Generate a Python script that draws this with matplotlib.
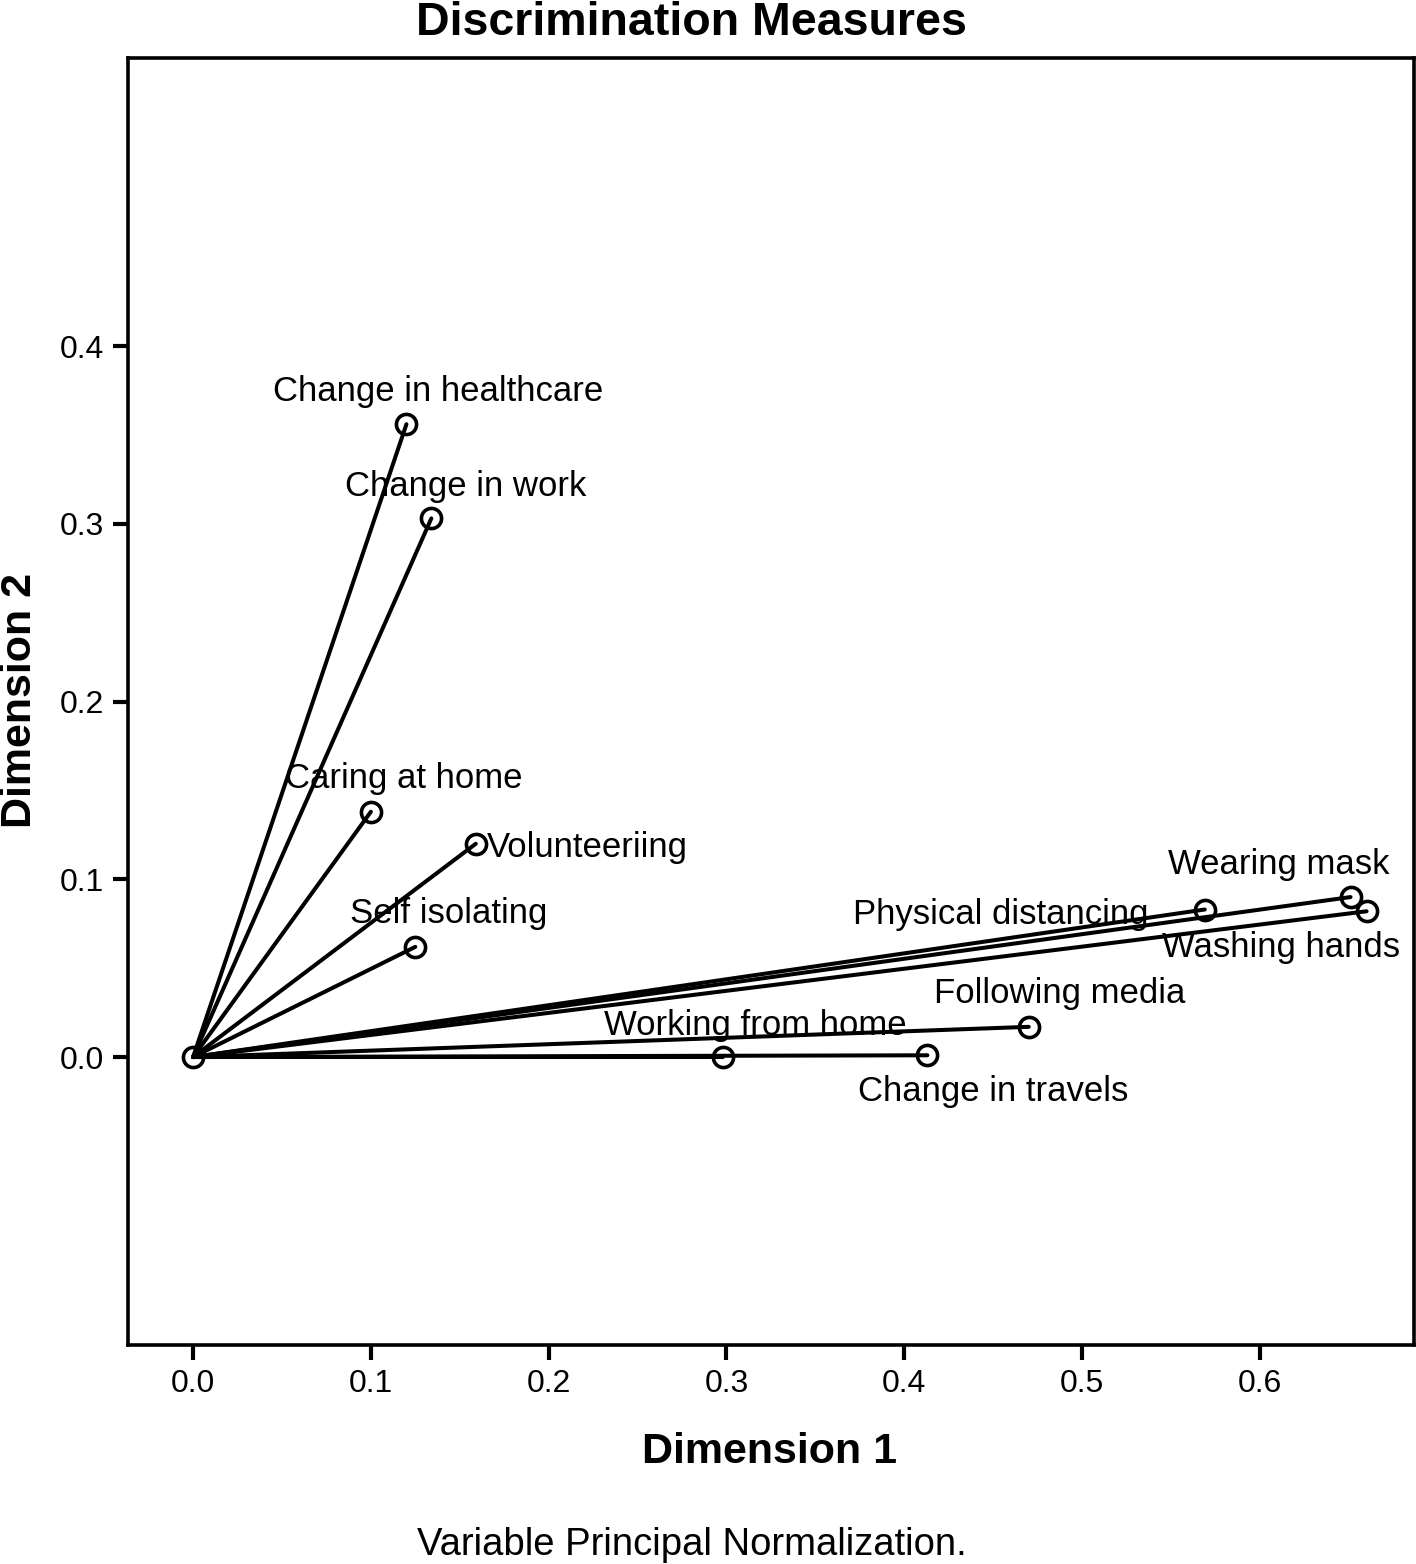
import matplotlib
matplotlib.use("Agg")
from matplotlib import pyplot as plt

plt.rcParams['font.family'] = ['Liberation Sans', 'DejaVu Sans']

# discrimination measures
variables = ['Change in healthcare', 'Change in work', 'Caring at home', 'Volunteeriing',
             'Self isolating', 'Physical distancing', 'Wearing mask', 'Washing hands',
             'Following media', 'Working from home', 'Change in travels']
dim1 = [0.120, 0.134, 0.100, 0.159, 0.125, 0.569, 0.651, 0.660, 0.470, 0.298, 0.413]
dim2 = [0.356, 0.303, 0.138, 0.120, 0.062, 0.083, 0.090, 0.082, 0.017, 0.000, 0.001]
ticks_x = [0.0, 0.1, 0.2, 0.3, 0.4, 0.5, 0.6]
ticks_y = [0.0, 0.1, 0.2, 0.3, 0.4]

# label placement (offset in pixels, alignment)
label_pos = [(32, 33, 'center'), (34, 32, 'center'), (33, 33, 'center'), (11, -4, 'left'),
             (33, 33, 'center'), (-56, -5, 'right'), (-72, 33, 'center'), (-85, -36, 'center'),
             (31, 33, 'center'), (32, 32, 'center'), (66, -36, 'center')]

fig = plt.figure(figsize=(14.16, 15.64), dpi=100)
ax = fig.add_axes([0.0904, 0.14, 0.9082, 0.8229])

for x, y in zip(dim1, dim2):
    ax.plot([0, x], [0, y], color='black', linewidth=2.9, solid_capstyle='round')
ax.plot(dim1, dim2, 'o', markersize=14.5, markerfacecolor='none',
        markeredgecolor='black', markeredgewidth=2.6)
ax.plot([0], [0], 'o', markersize=14.5, markerfacecolor='none',
        markeredgecolor='black', markeredgewidth=2.6)

for name, x, y, (dx, dy, ha) in zip(variables, dim1, dim2, label_pos):
    ax.annotate(name, (x, y), xytext=(dx, dy), textcoords='offset pixels',
                ha=ha, va='center', fontsize=25)

ax.set_xlim(-0.0366, 0.6867)
ax.set_ylim(-0.162, 0.562)
ax.set_xticks(ticks_x)
ax.set_yticks(ticks_y)
ax.set_xticklabels(['%.1f' % t for t in ticks_x])
ax.set_yticklabels(['%.1f' % t for t in ticks_y])
ax.tick_params(axis='both', direction='out', length=11, width=3, labelsize=23, pad=6)
for sp in ax.spines.values():
    sp.set_linewidth(2.6)

fig.text(0.4883, 1 - 23 / 1564, 'Discrimination Measures', ha='center', va='center',
         fontsize=33.5, fontweight='bold')
fig.text(770 / 1416, 1 - 1452 / 1564, 'Dimension 1', ha='center', va='center',
         fontsize=31, fontweight='bold')
fig.text(20 / 1416, 1 - 700 / 1564, 'Dimension 2', ha='center', va='center',
         fontsize=31, fontweight='bold', rotation=90)
fig.text(692 / 1416, 1 - 1545 / 1564, 'Variable Principal Normalization.', ha='center',
         va='center', fontsize=27.5)

fig.savefig('out.png', dpi=100)
